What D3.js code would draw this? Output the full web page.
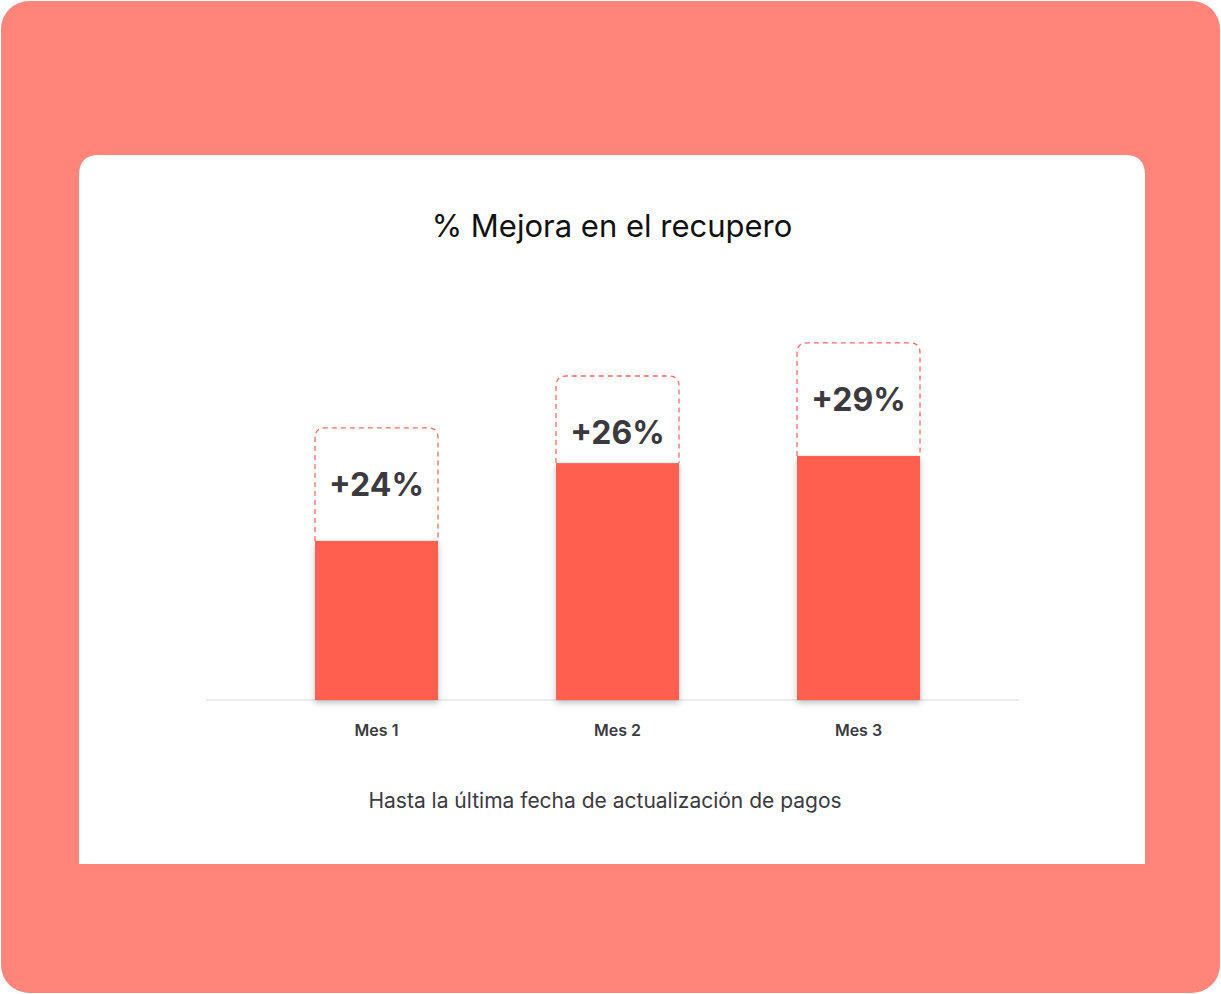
<!DOCTYPE html>
<html><head><meta charset="utf-8">
<script src="https://cdn.jsdelivr.net/npm/d3@7"></script>
<style>body{margin:0;background:#fff}</style>
</head><body>
<svg id="chart" width="1221" height="994"></svg>
<script>
const categories = ["Mes 1", "Mes 2", "Mes 3"];
const labels = ["+24%", "+26%", "+29%"];
const barValues = [44.2, 65.8, 67.8];   // filled part
const boxValues = [75.6, 90, 99.2];     // dashed outline top

const svg = d3.select("#chart");
const font = "Inter, 'Noto Sans', sans-serif";

// background frame
svg.append("rect").attr("x", 1).attr("y", 1).attr("width", 1219).attr("height", 992)
    .attr("rx", 28).attr("fill", "#ff857a");
svg.append("path").attr("fill", "#fff")
    .attr("d", "M79,864 L79,175 Q79,155 99,155 L1125,155 Q1145,155 1145,175 L1145,864 Z");

const defs = svg.append("defs");
const f = defs.append("filter").attr("id", "sh").attr("x", "-20%").attr("y", "-10%").attr("width", "140%").attr("height", "130%");
f.append("feDropShadow").attr("dx", 0).attr("dy", 3).attr("stdDeviation", 3)
    .attr("flood-color", "#000").attr("flood-opacity", 0.25);

svg.append("text").attr("x", 612).attr("y", 237).attr("text-anchor", "middle")
    .attr("font-family", font).attr("font-size", 31).attr("fill", "#111")
    .text("% Mejora en el recupero");

const x = d3.scalePoint().domain(categories).range([376.5, 858.5]);
const y = d3.scaleLinear().domain([0, 100]).range([700, 340]);
const bw = 123;

svg.append("line").attr("x1", 206).attr("x2", 1019).attr("y1", 700).attr("y2", 700)
    .attr("stroke", "#ececec").attr("stroke-width", 2);

const g = svg.selectAll("g.bar").data(categories).join("g").attr("class", "bar");

g.append("path").attr("fill", "none").attr("stroke", "#ff6b5f").attr("stroke-width", 1.3)
    .attr("stroke-dasharray", "5,4")
    .attr("d", (d, i) => {
        const x0 = x(d) - bw / 2, x1 = x(d) + bw / 2, t = y(boxValues[i]), b = y(barValues[i]), r = 10;
        return `M${x0},${b} L${x0},${t + r} Q${x0},${t} ${x0 + r},${t} L${x1 - r},${t} Q${x1},${t} ${x1},${t + r} L${x1},${b}`;
    });

g.append("rect").attr("x", d => x(d) - bw / 2).attr("width", bw)
    .attr("y", (d, i) => y(barValues[i])).attr("height", (d, i) => 700 - y(barValues[i]))
    .attr("fill", "#ff5f50").attr("filter", "url(#sh)");

g.append("text").attr("x", d => x(d)).attr("y", (d, i) => y(boxValues[i]) + 68)
    .attr("text-anchor", "middle").attr("font-family", font).attr("font-weight", 700)
    .attr("font-size", 32).attr("fill", "#3a3a3f").text((d, i) => labels[i]);

g.append("text").attr("x", d => x(d)).attr("y", 736).attr("text-anchor", "middle")
    .attr("font-family", font).attr("font-weight", 600).attr("font-size", 16)
    .attr("fill", "#3a3a3f").text(d => d);

svg.append("text").attr("x", 605).attr("y", 808).attr("text-anchor", "middle")
    .attr("font-family", font).attr("font-size", 21).attr("fill", "#3a3a3f")
    .text("Hasta la última fecha de actualización de pagos");
</script>
</body></html>
